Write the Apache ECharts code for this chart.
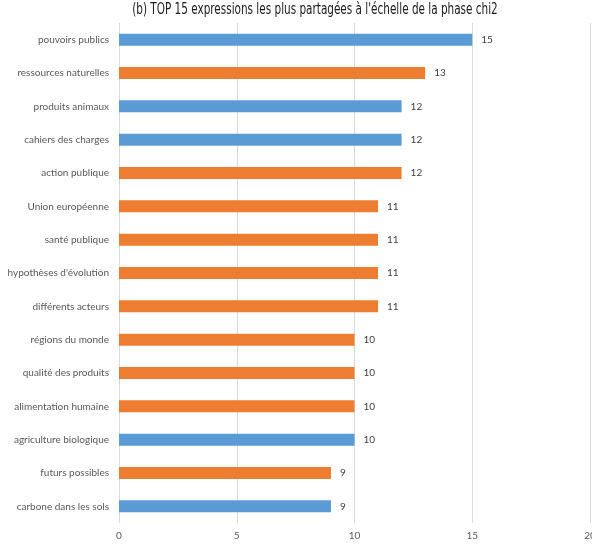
<!DOCTYPE html>
<html><head><meta charset="utf-8">
<script src="https://cdn.jsdelivr.net/npm/echarts@6/dist/echarts.min.js"></script>
<style>html,body{margin:0;padding:0;background:#fff}#c{width:592px;height:544px}</style>
</head><body><div id="c"></div>
<script>
const categories = ["pouvoirs publics","ressources naturelles","produits animaux","cahiers des charges","action publique","Union européenne","santé publique","hypothèses d'évolution","différents acteurs","régions du monde","qualité des produits","alimentation humaine","agriculture biologique","futurs possibles","carbone dans les sols"];
const values = [15,13,12,12,12,11,11,11,11,10,10,10,10,9,9];
const groups = ["A","B","A","A","B","B","B","B","B","B","B","B","A","B","A"];
const xTicks = [0,5,10,15,20];
const titleText = "(b) TOP 15 expressions les plus partagées à l'échelle de la phase chi2";

const colorOf = {A:"#5B9BD5", B:"#ED7D31"};
const chart = echarts.init(document.getElementById('c'));
chart.setOption({
  animation:false,
  graphic:[{type:'text',x:315,y:10,scaleX:0.775,silent:true,
    style:{text:titleText,textAlign:'center',textVerticalAlign:'middle',
      font:'15px "DejaVu Sans Condensed", "Noto Sans"',fill:'#1a1a1a'}}],
  grid:{left:119,right:2,top:23,bottom:21,containLabel:false,outerBoundsMode:'none'},
  xAxis:{type:'value',min:xTicks[0],max:xTicks[xTicks.length-1],interval:5,
    axisLine:{show:false},axisTick:{show:false},
    splitLine:{lineStyle:{color:'#d9d9d9',width:1}},
    axisLabel:{color:'#595959',fontSize:10,fontFamily:'Lato',margin:8,showMaxLabel:true,hideOverlap:false}},
  yAxis:{type:'category',data:categories,inverse:true,
    axisLine:{show:false},axisTick:{show:false},
    axisLabel:{color:'#595959',fontSize:10,fontFamily:'Lato',margin:10}},
  series:[{type:'bar',barWidth:12,
    data:values.map((v,i)=>({value:v,itemStyle:{color:colorOf[groups[i]]}})),
    label:{show:true,position:'right',distance:9,color:'#404040',fontSize:10,fontFamily:'Lato'}}]
});
</script></body></html>
